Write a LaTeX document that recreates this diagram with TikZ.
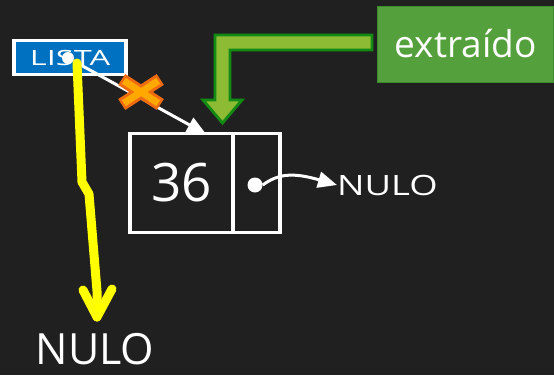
\documentclass[tikz,border=0pt]{standalone}
\usepackage{fontspec}
\usepackage{graphicx}
\setmainfont{Open Sans}
\usetikzlibrary{arrows.meta}
\definecolor{board}{HTML}{202020}
\definecolor{listblue}{HTML}{0070C0}
\definecolor{tagfill}{HTML}{54A03C}
\definecolor{tagedge}{HTML}{3E8A2E}
\definecolor{bentfill}{HTML}{8DBB34}
\definecolor{bentedge}{HTML}{138A13}
\definecolor{crossfill}{HTML}{FFA800}
\definecolor{crossedge}{HTML}{F06A10}
\definecolor{pathyellow}{HTML}{FFFF00}
\newcommand{\wide}[2]{\scalebox{#1}[1]{#2}}
\tikzset{
  cell/.style={draw=white, line width=3.4pt, minimum height=99pt, inner sep=0pt, text=white},
  chalk/.style={text=white, inner sep=0pt},
  pin/.style={circle, fill=white, inner sep=0pt},
  link/.style={draw=white, line width=3pt, -{Triangle[length=19pt,width=16pt]}},
  yline/.style={pathyellow, line width=9pt, line cap=round, line join=round},
}
\begin{document}
\begin{tikzpicture}[x=1pt,y=-1pt]
  % chalkboard
  \fill[board] (0,0) rectangle (554,375);
  \useasboundingbox (0,0) rectangle (554,375);

  % head pointer label
  \node[draw=white, line width=3.2pt, fill=listblue, minimum width=112pt,
        minimum height=34pt, inner sep=0pt, text=white] (lista) at (70,57.5)
        {\fontsize{21}{21}\selectfont\wide{1.55}{LISTA}};
  \node[pin, minimum size=12pt] (ldot) at (68,58) {};

  % the single list node: value cell and next cell
  \node[cell, minimum width=103pt] (val) at (181.5,183)
        {\fontsize{53}{53}\selectfont 36};
  \node[cell, minimum width=47pt] (ptr) at (256.5,183) {};
  \node[pin, minimum size=15pt] (ndot) at (255,185) {};

  % null after the node
  \node[chalk, anchor=west] (nulo1) at (337,185)
        {\fontsize{28}{28}\selectfont\wide{1.3}{NULO}};
  \draw[link] (ndot.east) .. controls (278,174) and (292,172) .. (nulo1.west);

  % old link from the head to the node, crossed out
  \coordinate (hit) at (206,134);
  \draw[link] (ldot) -- (hit);
  \coordinate (cross) at (141,92);
  \foreach \a in {33,147}{
    \draw[crossedge, line width=13pt] (cross) ++(\a:-23) -- ++(\a:46);
  }
  \foreach \a in {33,147}{
    \draw[crossfill, line width=7pt] (cross) ++(\a:-20.5) -- ++(\a:41);
  }

  % head now leads to null
  \node[chalk] (nulo2) at (95,349) {\fontsize{43}{43}\selectfont NULO};
  \coordinate (ystart) at (77,63);
  \coordinate (ytip) at (97,317);
  \draw[yline] (ystart) -- (82,182) -- (89,194) -- (97,291) -- (ytip);
  \draw[yline] (ytip) ++(-14,-27) -- (ytip) -- ++(15,-28);

  % removed-node tag with bent arrow
  \node[fill=tagfill, draw=tagedge, line width=1pt, minimum width=176pt,
        minimum height=76pt, text=white] (ext) at (465.5,44)
        {\fontsize{37}{37}\selectfont extraído};
  \draw[bentedge, fill=bentfill, line width=2.8pt, line join=miter]
    (ext.west) ++(-5,-9) -- ++(-157,0) -- ++(0,65) -- ++(-12,0)
    -- ++(19.5,23) -- ++(19.5,-23) -- ++(-12,0) -- ++(0,-50) -- ++(142,0) -- cycle;
\end{tikzpicture}
\end{document}
